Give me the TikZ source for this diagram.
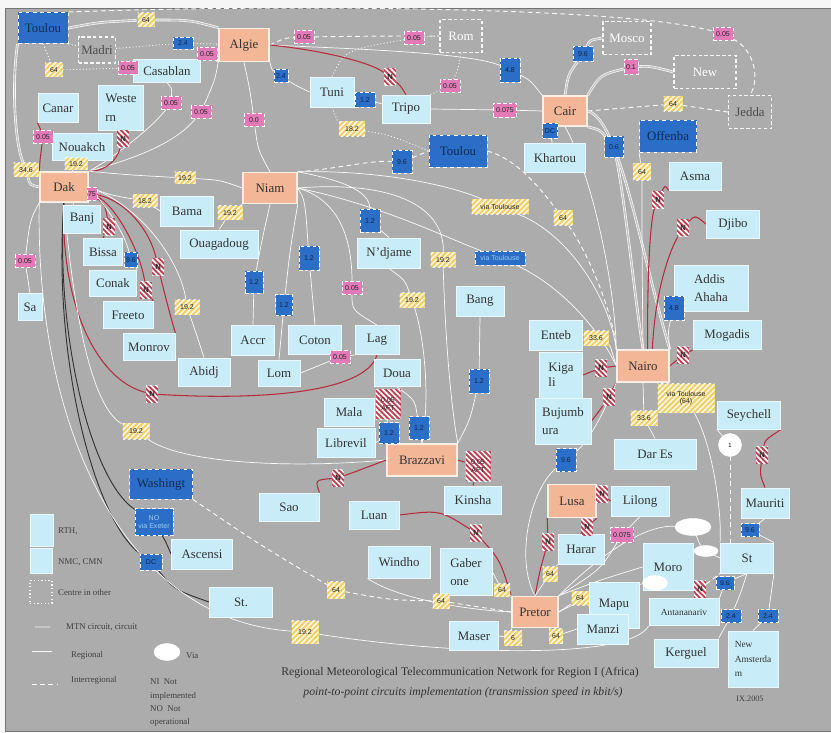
\documentclass[tikz,border=0pt]{standalone}
\usepackage{fontspec}
\setmainfont{Liberation Serif}
\setsansfont{Liberation Sans}
\usetikzlibrary{shapes.geometric,patterns.meta}

\definecolor{bgc}{RGB}{172,172,172}
\definecolor{rthc}{RGB}{243,182,150}
\definecolor{nmcc}{RGB}{200,237,249}
\definecolor{bluc}{RGB}{42,110,200}
\definecolor{pinkc}{RGB}{226,122,184}
\definecolor{yelc}{RGB}{240,208,105}
\definecolor{redc}{RGB}{180,44,64}

\pgfdeclarelayer{back}
\pgfdeclarelayer{lines}
\pgfsetlayers{back,lines,main}

\tikzset{
  sz/.style 2 args={minimum width=#1*0.03cm, minimum height=#2*0.03cm},
  city/.style={rectangle, inner sep=1pt, align=center, font=\fontsize{11}{16}\selectfont, text=black!80},
  rth/.style={city, fill=rthc, draw=white!75!rthc, line width=1.3pt},
  nmc/.style={city, fill=nmcc, draw=white!60!nmcc, line width=0.8pt},
  bigblue/.style={city, fill=bluc, draw=white, dashed, line width=0.8pt, text=bluc!40!black},
  other/.style={city, draw=white!90!bgc, densely dashed, line width=1.1pt},
  lbl/.style={rectangle, inner sep=0.3pt, align=center, font=\sffamily\fontsize{6}{6.5}\selectfont, text=black!85},
  pk/.style={lbl, fill=pinkc, draw=white, densely dashed, line width=0.4pt, sz={20}{13}},
  bl/.style={lbl, fill=bluc, draw=white, densely dashed, line width=0.5pt, text=bluc!35!black, sz={20}{15}},
  yl/.style={lbl, preaction={fill=yelc}, pattern={Lines[angle=45,distance=3.2pt,line width=1.3pt]}, pattern color=white!85!yelc, sz={18}{14}},
  nn/.style={lbl, preaction={fill=redc!90!white}, pattern={Lines[angle=-45,distance=3.2pt,line width=1.4pt]}, pattern color=white, sz={12}{17}, font=\sffamily\bfseries\fontsize{6.5}{6.5}\selectfont},
  via/.style={ellipse, fill=white, draw=white, inner sep=0pt, font=\sffamily\fontsize{5}{5}\selectfont},
  reg/.style={draw=white!94!bgc, line width=0.6pt},
  inter/.style={draw=white!94!bgc, line width=0.8pt, dash pattern=on 4pt off 3pt},
  dotl/.style={draw=white!94!bgc, line width=0.8pt, dotted},
  mtn/.style={draw=white, line width=0.5pt, double=bgc!70!white, double distance=1.2pt},
  redl/.style={draw=redc, line width=0.9pt},
  blk/.style={draw=black!80, line width=0.8pt},
  lgt/.style={anchor=west, inner sep=0pt, align=left, font=\fontsize{7.5}{11.3}\selectfont, text=black!75}
}

\begin{document}
\begin{tikzpicture}[x=0.03cm, y=-0.03cm]
\useasboundingbox (0,0) rectangle (831,733);
\begin{pgfonlayer}{back}
  \fill[white!93!gray] (0,0) rectangle (831,733);
  \fill[bgc] (5,8) rectangle (831,731);
  \draw[black!55, line width=0.5pt] (831,8) -- (5,8) -- (5,731) -- (831,731);
\end{pgfonlayer}

% regional telecommunication hubs
\begin{scope}[every node/.style={rth}]
  \node[sz={50}{33}] (algie) at (244,45) {Algie};
  \node[sz={48}{30}] (dak) at (64,187) {Dak};
  \node[sz={54}{31}] (niam) at (270,188) {Niam};
  \node[sz={44}{30}] (cair) at (565,111) {Cair};
  \node[sz={52}{32}] (nairo) at (643,366) {Nairo};
  \node[sz={70}{32}] (brazza) at (422,460) {Brazzavi};
  \node[sz={48}{33}] (lusa) at (572,501) {Lusa};
  \node[sz={46}{31}] (pretor) at (535,612) {Pretor};
\end{scope}

\begin{scope}[every node/.style={bigblue}]
  \node[sz={50}{31}] (toulouA) at (43,28) {Toulou};
  \node[sz={58}{32}] (toulouB) at (458,151) {Toulou};
  \node[sz={57}{32}] (offenba) at (668,136) {Offenba};
  \node[sz={63}{30}] (washingt) at (161,484) {Washingt};
\end{scope}

\begin{scope}[every node/.style={other}]
  \node[sz={37}{26}, text=black!70] (madri) at (97,50) {Madri};
  \node[sz={42}{33}, text=white] (rom) at (461,36) {Rom};
  \node[sz={48}{33}, text=white] (mosco) at (627,38) {Mosco};
  \node[sz={62}{33}, text=white] (newy) at (705,72) {New};
  \node[sz={43}{33}, text=black!70] (jedda) at (750,112) {Jedda};
\end{scope}

\begin{scope}[every node/.style={nmc}]
  \node[sz={67}{23}] (casablan) at (167,71) {Casablan};
  \node[sz={40}{29}] (canar) at (58,108) {Canar};
  \node[sz={45}{45}, align=left] (weste) at (121,108) {Weste\\rn};
  \node[sz={60}{27}] (nouakch) at (82,147) {Nouakch};
  \node[sz={44}{30}] (tuni) at (332,92) {Tuni};
  \node[sz={48}{28}] (tripo) at (406,109) {Tripo};
  \node[sz={61}{29}] (khartou) at (555,158) {Khartou};
  \node[sz={52}{28}] (asma) at (695,176) {Asma};
  \node[sz={53}{28}] (djibo) at (733,224) {Djibo};
  \node[sz={74}{46}, align=left] (addis) at (711,288) {Addis\\Ahaha};
  \node[sz={68}{29}] (mogadis) at (727,335) {Mogadis};
  \node[sz={53}{30}] (enteb) at (556,335) {Enteb};
  \node[sz={43}{46}, align=left, font=\fontsize{11}{13}\selectfont] (kigali) at (561,375) {Kiga\\li};
  \node[sz={56}{46}, align=left] (bujumb) at (563,421) {Bujumb\\ura};
  \node[sz={48}{30}] (bang) at (480,301) {Bang};
  \node[sz={63}{30}] (ndjame) at (389,253) {N'djame};
  \node[sz={53}{30}] (bama) at (187,211) {Bama};
  \node[sz={78}{28}] (ouaga) at (219,244) {Ouagadoug};
  \node[sz={37}{28}] (banj) at (82,219) {Banj};
  \node[sz={39}{27}] (bissa) at (103,252) {Bissa};
  \node[sz={47}{26}] (conak) at (113,283) {Conak};
  \node[sz={50}{27}] (freeto) at (128,315) {Freeto};
  \node[sz={52}{27}] (monrov) at (149,347) {Monrov};
  \node[sz={52}{28}] (abidj) at (204,372) {Abidj};
  \node[sz={24}{27}] (sa) at (30,307) {Sa};
  \node[sz={43}{30}] (accr) at (253,340) {Accr};
  \node[sz={42}{26}] (lom) at (279,373) {Lom};
  \node[sz={53}{29}] (coton) at (315,340) {Coton};
  \node[sz={44}{29}] (lag) at (377,340) {Lag};
  \node[sz={46}{27}] (doua) at (397,373) {Doua};
  \node[sz={50}{28}] (mala) at (349,412) {Mala};
  \node[sz={58}{29}] (librevil) at (346,443) {Librevil};
  \node[sz={60}{28}] (sao) at (289,507) {Sao};
  \node[sz={57}{28}] (kinsha) at (473,500) {Kinsha};
  \node[sz={50}{28}] (luan) at (374,515) {Luan};
  \node[sz={62}{32}] (windho) at (399,562) {Windho};
  \node[sz={52}{47}, align=left] (gaber) at (466,572) {Gaber\\one};
  \node[sz={49}{29}] (maser) at (474,636) {Maser};
  \node[sz={46}{30}] (harar) at (581,549) {Harar};
  \node[sz={58}{30}] (lilong) at (640,501) {Lilong};
  \node[sz={82}{30}] (dares) at (655,454) {Dar Es};
  \node[sz={63}{28}] (seychell) at (749,415) {Seychell};
  \node[sz={48}{30}] (mauriti) at (765,503) {Mauriti};
  \node[sz={50}{47}] (moro) at (668,567) {Moro};
  \node[sz={53}{30}] (st) at (747,558) {St};
  \node[sz={50}{46}] (mapu) at (614,605) {Mapu};
  \node[sz={51}{30}] (manzi) at (603,629) {Manzi};
  \node[sz={70}{27}, font=\fontsize{8}{10}\selectfont] (antana) at (684,612) {Antananariv};
  \node[sz={64}{28}] (kerguel) at (686,653) {Kerguel};
  \node[sz={50}{56}, align=left, font=\fontsize{8}{12.5}\selectfont] (newam) at (753,659) {New\\Amsterda\\m};
  \node[sz={61}{30}] (ascensi) at (202,554) {Ascensi};
  \node[sz={63}{30}] (stx) at (241,602) {St.};
\end{scope}

% circuit speeds
\begin{scope}[every node/.style={pk}]
  \node (p1) at (128,68) {0.05};
  \node (p2) at (207,54) {0.05};
  \node (p3) at (171,103) {0.05};
  \node (p4) at (201,112) {0.05};
  \node (p5) at (254,120) {0.0};
  \node (p6) at (43,137) {0.05};
  \node[sz={10}{13}] (p7) at (92,194) {75};
  \node (p8) at (25,261) {0.05};
  \node (p9) at (352,288) {0.05};
  \node (p10) at (340,357) {0.05};
  \node (p11) at (304,37) {0.05};
  \node (p12) at (414,38) {0.05};
  \node (p13) at (450,86) {0.05};
  \node[sz={23}{14}] (p14) at (505,110) {0.075};
  \node[sz={14}{15}] (p15) at (631,67) {0.1};
  \node (p16) at (723,34) {0.05};
  \node[sz={23}{15}] (p17) at (622,535) {0.075};
\end{scope}

\begin{scope}[every node/.style={bl}]
  \node[sz={20}{12}] (b1) at (183,43) {2.4};
  \node[sz={14}{13}] (b2) at (281,76) {2.4};
  \node (b3) at (365,100) {1.2};
  \node[sz={20}{24}] (b4) at (510,70) {4.8};
  \node (b5) at (583,54) {9.6};
  \node[sz={15}{15}] (b6) at (550,131) {DC};
  \node[sz={19}{21}] (b7) at (614,147) {0.6};
  \node[sz={20}{23}] (b8) at (402,162) {9.6};
  \node[sz={13}{15}] (b9) at (131,260) {9.6};
  \node[sz={18}{22}] (b10) at (254,282) {1.2};
  \node[sz={17}{21}] (b11) at (284,305) {1.2};
  \node[sz={20}{24}] (b12) at (309,258) {1.2};
  \node[sz={20}{23}] (b13) at (370,221) {1.2};
  \node[sz={50}{14}, text=nmcc!70!bluc] (b14) at (500,258) {via Toulouse};
  \node[sz={20}{24}] (b15) at (674,308) {4.8};
  \node[sz={20}{21}] (b16) at (389,433) {1.2};
  \node[sz={20}{23}] (b17) at (419,428) {1.2};
  \node[sz={20}{24}] (b18) at (479,381) {1.2};
  \node[sz={20}{23}] (b19) at (566,460) {9.6};
  \node[sz={18}{13}] (b20) at (750,530) {9.6};
  \node[sz={18}{13}] (b21) at (725,583) {9.6};
  \node[sz={20}{13}] (b22) at (731,616) {2.4};
  \node[sz={20}{13}] (b23) at (768,616) {2.4};
  \node[sz={38}{27}, text=nmcc!75!bluc] (b24) at (154,522) {NO\\via Exeter};
  \node[sz={22}{16}] (b25) at (151,562) {DC};
\end{scope}

\begin{scope}[every node/.style={yl}]
  \node[sz={17}{14}] (y1) at (146,20) {64};
  \node (y2) at (54,70) {64};
  \node[sz={25}{14}] (y3) at (26,170) {34.6};
  \node[sz={23}{12}] (y4) at (76,164) {19.2};
  \node[sz={21}{12}] (y5) at (185,178) {19.2};
  \node[sz={25}{13}] (y6) at (145,201) {18.2};
  \node[sz={25}{14}] (y7) at (230,213) {19.2};
  \node[sz={25}{15}] (y8) at (187,307) {19.2};
  \node[sz={26}{15}] (y9) at (352,129) {18.2};
  \node[sz={57}{15}] (y10) at (500,207) {via Toulouse};
  \node[sz={19}{15}] (y11) at (563,218) {64};
  \node[sz={25}{15}] (y12) at (443,260) {19.2};
  \node[sz={25}{15}] (y13) at (412,300) {19.2};
  \node[sz={19}{15}] (y14) at (673,104) {64};
  \node[sz={18}{17}] (y15) at (642,172) {64};
  \node[sz={25}{15}] (y16) at (596,338) {33.6};
  \node[sz={57}{29}] (y17) at (686,398) {via Toulouse\\(64)};
  \node[sz={27}{15}] (y18) at (644,418) {33.6};
  \node[sz={27}{16}] (y19) at (136,431) {19.2};
  \node[sz={18}{17}] (y20) at (336,590) {64};
  \node[sz={17}{15}] (y21) at (441,601) {64};
  \node[sz={16}{13}] (y22) at (502,590) {64};
  \node[sz={18}{15}] (y23) at (513,638) {6};
  \node[sz={27}{23}] (y24) at (305,632) {19.2};
  \node[sz={15}{15}] (y25) at (550,574) {64};
  \node[sz={17}{14}] (y26) at (580,598) {64};
  \node[sz={14}{15}] (y27) at (556,636) {64};
\end{scope}

\begin{scope}[every node/.style={nn}]
  \node (n1) at (123,139) {N};
  \node (n2) at (109,227) {N};
  \node (n3) at (146,290) {N};
  \node (n4) at (158,267) {N};
  \node (n5) at (152,394) {N};
  \node (n6) at (390,77) {N};
  \node (n7) at (658,200) {N};
  \node (n8) at (683,228) {N};
  \node (n9) at (683,355) {N};
  \node (n10) at (601,368) {N};
  \node (n11) at (609,397) {N};
  \node (n12) at (762,455) {N};
  \node (n13) at (602,494) {N};
  \node (n14) at (587,527) {N};
  \node (n15) at (548,542) {N};
  \node (n16) at (476,533) {N};
  \node (n17) at (338,478) {N};
  \node (n18) at (700,589) {N};
  \node[sz={25}{30}, font=\sffamily\fontsize{6}{6.5}\selectfont] (a1) at (388,404) {0.05\\AFT};
  \node[sz={25}{30}, font=\sffamily\fontsize{6}{6.5}\selectfont] (a2) at (478,466) {0.05\\AFT};
\end{scope}

\begin{scope}[every node/.style={via}]
  \node[sz={23}{23}] (c1) at (730,445) {1};
  \node[sz={36}{17}] (c2) at (693,527) {};
  \node[sz={24}{11}] (c3) at (706,551) {};
  \node[sz={25}{15}] (c4) at (655,583) {};
  \node[sz={26}{17}] (cv) at (167,652) {};
\end{scope}

% legend and title
\node[nmc, sz={23}{32}] (lgrth) at (42,530) {};
\node[nmc, sz={22}{25}] (lgnmc) at (41,561) {};
\node[other, sz={22}{23}, dotted] (lgoth) at (41,592) {};
\coordinate (lm1) at (35,627);
\coordinate (lm2) at (50,627);
\coordinate (lr1) at (32,651);
\coordinate (lr2) at (52,651);
\coordinate (li1) at (32,684);
\coordinate (li2) at (58,684);
\node[lgt] (trth) at (58,531) {RTH,};
\node[lgt] (tnmc) at (58,562) {NMC, CMN};
\node[lgt] (toth) at (58,592) {Centre in other};
\node[lgt] (tmtn) at (66,627) {MTN circuit, circuit};
\node[lgt] (treg) at (71,655) {Regional};
\node[lgt] (tint) at (71,680) {Interregional};
\node[lgt] (tvia) at (186,656) {Via};
\node[lgt, anchor=north west] (tnote) at (150,679) {NI\enspace Not\\implemented\\NO\enspace Not\\operational};
\node[font=\fontsize{10}{12}\selectfont, text=black!80] (ttl) at (460,673) {Regional Meteorological Telecommunication Network for Region I (Africa)};
\node[font=\itshape\fontsize{10}{12}\selectfont, text=black!80] (sub) at (463,693) {point-to-point circuits implementation (transmission speed in kbit/s)};
\node[font=\fontsize{7}{8}\selectfont, text=black!75] (date) at (750,699) {IX.2005};

\begin{pgfonlayer}{lines}
  \draw[mtn] (lm1) -- (lm2);
  \draw[reg] (lr1) -- (lr2);
  \draw[inter] (li1) -- (li2);
  % north
  \draw[mtn] (toulouA.east) .. controls (100,22) .. (y1) .. controls (190,20) .. (algie.north west);
  \draw[mtn] (toulouA.south west) .. controls (12,80) and (14,140) .. (y3) .. controls (30,185) .. (dak.west);
  \draw[dotl] (toulouA.south) -- (y2) -- (p1) -- (casablan);
  \draw[dotl] (toulouA.south east) -- (madri) -- (b1) -- (algie);
  \draw[reg] (casablan.north east) -- (p2) -- (algie.south west);
  \draw[inter] (algie.east) .. controls (285,38) .. (p11) .. controls (380,36) .. (rom.west);
  \draw[dotl] (tuni.north) .. controls (345,50) .. (p12) -- (rom.west);
  \draw[inter] (toulouA.north east) .. controls (250,5) and (620,5) .. (p16) .. controls (755,50) and (760,80) .. (jedda.north);
  \draw[reg] (algie.east) .. controls (330,48) and (470,52) .. (b4) .. controls (530,80) .. (cair.north west);
  \draw[redl] (algie.east) .. controls (320,50) and (370,62) .. (n6) .. controls (400,85) .. (tripo.north);
  \draw[reg] (algie.south east) .. controls (272,70) .. (b2) .. controls (295,85) .. (tuni.west);
  \draw[reg] (tuni) -- (b3) -- (tripo);
  \draw[reg] (tripo.east) -- (p14) -- (cair.west);
  \draw[dotl] (tripo.north east) -- (p13) .. controls (458,70) .. (rom.south);
  \draw[mtn] (cair.north) .. controls (568,75) .. (b5) .. controls (590,40) .. (mosco.west);
  \draw[mtn] (cair.north east) .. controls (600,75) .. (p15) .. controls (650,66) .. (newy.west);
  \draw[inter] (cair.east) -- (y14) -- (jedda.west);
  \draw[reg] (cair) -- (b6) -- (khartou);
  \draw[mtn] (cair.south east) .. controls (600,130) .. (b7) .. controls (625,200) and (635,300) .. (nairo.north);
  \draw[mtn] (cair.east) .. controls (620,120) and (640,250) .. (nairo.north east);
  \draw[reg] (cair.south) .. controls (590,170) and (615,280) .. (nairo.north west);
  \draw[reg] (offenba.south west) -- (y15) .. controls (642,250) .. (nairo.north);
  % west
  \draw[reg] (algie.south west) .. controls (215,80) .. (p4) .. controls (170,150) and (110,165) .. (dak.north east);
  \draw[reg] (casablan.south) .. controls (172,88) .. (p3) .. controls (150,130) and (110,160) .. (dak.north east);
  \draw[reg] (algie.south) .. controls (250,90) .. (p5) .. controls (258,150) .. (niam.north);
  \draw[redl] (canar.south west) .. controls (40,128) .. (p6) .. controls (40,160) .. (dak.north west);
  \draw[redl] (weste.south) -- (n1) .. controls (115,165) and (100,172) .. (dak.north east);
  \draw[reg] (nouakch) -- (y4) -- (dak);
  \draw[reg] (dak.north east) .. controls (130,175) .. (y5) .. controls (220,180) .. (niam.west);
  \draw[reg] (dak.east) .. controls (110,195) .. (y6) -- (bama.west);
  \draw[reg] (niam.south west) -- (y7) -- (ouaga.north);
  \draw[reg] (dak) -- (banj);
  \draw[redl] (p7) .. controls (105,205) .. (n2) -- (bissa.north);
  \draw[redl] (p7) .. controls (125,200) and (150,230) .. (n4) .. controls (165,295) and (170,315) .. (monrov.north east);
  \draw[redl] (p7) .. controls (115,205) and (140,250) .. (n3) -- (freeto.north east);
  \draw[reg] (dak.east) .. controls (110,210) and (125,235) .. (b9) -- (conak.north east);
  \draw[reg] (dak.east) .. controls (140,205) and (180,260) .. (y8) .. controls (195,330) .. (abidj.north);
  \draw[reg] (dak.south west) .. controls (30,220) .. (p8) -- (sa.north);
  \draw[redl] (dak.south) .. controls (60,300) and (95,380) .. (n5) .. controls (250,400) and (365,395) .. (lag.south);
  \draw[reg] (dak.south) .. controls (75,330) and (95,410) .. (y19) .. controls (185,465) and (300,468) .. (brazza.west);
  \draw[blk] (dak.south) .. controls (55,330) and (90,480) .. (b24) .. controls (165,540) .. (ascensi.west);
  \draw[blk] (dak.south) .. controls (52,360) and (95,520) .. (b25) .. controls (175,590) .. (stx.west);
  \draw[reg] (dak.south west) .. controls (35,420) and (120,620) .. (y24) .. controls (450,655) and (630,660) .. (antana.south west);
  \draw[inter] (washingt.south east) .. controls (260,545) .. (y20) .. controls (390,600) .. (y21) -- (pretor.west);
  % centre
  \draw[redl] (sao.north east) .. controls (315,480) .. (n17) .. controls (360,470) .. (brazza.west);
  \draw[redl] (brazza.east) -- (a2) -- (kinsha.north);
  \draw[reg] (mala.east) -- (a1) -- (brazza.north west);
  \draw[reg] (librevil.east) -- (b16) -- (brazza.north west);
  \draw[reg] (doua.south) .. controls (415,400) .. (b17) -- (brazza.north);
  \draw[reg] (bang.south) -- (b18) .. controls (470,420) .. (brazza.north east);
  \draw[reg] (ndjame.south) .. controls (405,280) .. (y13) .. controls (425,340) and (430,400) .. (brazza.north);
  \draw[reg] (niam.east) .. controls (400,180) and (445,210) .. (y12) .. controls (445,330) and (450,400) .. (brazza.north east);
  \draw[reg] (niam.north east) .. controls (380,170) and (450,185) .. (y10) .. controls (570,235) and (610,300) .. (nairo.north west);
  \draw[reg] (niam.east) .. controls (380,205) and (440,235) .. (b14) .. controls (560,285) and (600,330) .. (nairo.west);
  \draw[inter] (niam.north east) .. controls (330,170) and (370,160) .. (b8) -- (toulouB.west);
  \draw[dotl] (tuni.south) .. controls (338,122) .. (y9) .. controls (390,135) .. (toulouB.west);
  \draw[inter] (toulouB.east) .. controls (520,160) and (545,195) .. (y11) .. controls (590,255) and (615,320) .. (nairo.north west);
  \draw[reg] (niam.south) .. controls (262,240) .. (b10) -- (accr.north);
  \draw[reg] (niam.south east) .. controls (290,250) .. (b11) -- (lom.north);
  \draw[reg] (niam.east) .. controls (305,200) .. (b12) -- (coton.north);
  \draw[reg] (niam.east) .. controls (340,200) and (352,240) .. (p9) .. controls (352,310) .. (lag.north);
  \draw[reg] (niam.north east) .. controls (340,180) and (370,190) .. (b13) -- (ndjame.north);
  \draw[reg] (lag.south west) -- (p10) -- (lom.east);
  % east and south
  \draw[redl] ([xshift=4pt]nairo.north) .. controls (647,280) and (650,220) .. (n7) .. controls (665,185) .. (asma.south west);
  \draw[redl] ([xshift=8pt]nairo.north) .. controls (655,290) and (670,250) .. (n8) .. controls (695,215) .. (djibo.west);
  \draw[reg] (nairo.north east) .. controls (668,330) .. (b15) -- (addis);
  \draw[redl] (nairo.east) -- (n9) -- (mogadis.south west);
  \draw[reg] (nairo.west) .. controls (610,345) .. (y16) -- (enteb.east);
  \draw[redl] (nairo.west) -- (n10) -- (kigali.east);
  \draw[redl] (nairo.south west) .. controls (612,390) .. (n11) .. controls (600,410) .. (bujumb.east);
  \draw[reg] (nairo.south) -- (y18) -- (dares.north);
  \draw[reg] (nairo.south east) -- (y17) .. controls (715,450) and (722,520) .. (st.north west);
  \draw[reg] (nairo.south west) .. controls (605,410) and (590,440) .. (b19) .. controls (530,490) and (515,560) .. (pretor.north);
  \draw[reg] (seychell.south west) -- (c1);
  \draw[inter] (c1) -- (c1 |- st.north);
  \draw[redl] (seychell.south east) .. controls (765,440) .. (n12) .. controls (760,475) .. (mauriti.north);
  \draw[reg] (mauriti.south) -- (b20) -- (st.north east);
  \draw[redl] (lusa.east) -- (n13) -- (lilong.west);
  \draw[redl] (lusa.south east) -- (n14) -- (harar.north);
  \draw[redl] (lusa.south west) -- (n15) .. controls (540,570) .. (pretor.north);
  \draw[reg] (pretor.north east) .. controls (600,570) .. (p17) -- (lilong.south);
  \draw[redl] (luan.east) .. controls (440,510) .. (n16) .. controls (500,560) .. (pretor.north west);
  \draw[reg] (windho.south west) .. controls (400,600) and (470,610) .. (pretor.west);
  \draw[reg] (gaber.east) -- (y22) -- (pretor.north west);
  \draw[reg] (maser.east) -- (y23) -- (pretor.south west);
  \draw[reg] (harar.south west) -- (y25) -- (pretor.north);
  \draw[reg] (pretor.east) -- (y26) -- (mapu.west);
  \draw[reg] (pretor.south east) -- (y27) -- (manzi.west);
  \draw[reg] (pretor.north east) .. controls (610,545) and (650,525) .. (c2) .. controls (700,545) .. (c3) -- (st.west);
  \draw[reg] (pretor.east) .. controls (600,590) and (630,585) .. (c4);
  \draw[inter] (c4) -- (n18) -- (st.south west);
  \draw[reg] (pretor.north east) .. controls (600,580) .. (moro.west);
  \draw[reg] (st.south) -- (b21) -- (antana.north east);
  \draw[reg] (st.south) .. controls (740,595) .. (b22) -- (kerguel.north east);
  \draw[reg] (st.south east) -- (b23) -- (newam.north);
\end{pgfonlayer}
\end{tikzpicture}
\end{document}
